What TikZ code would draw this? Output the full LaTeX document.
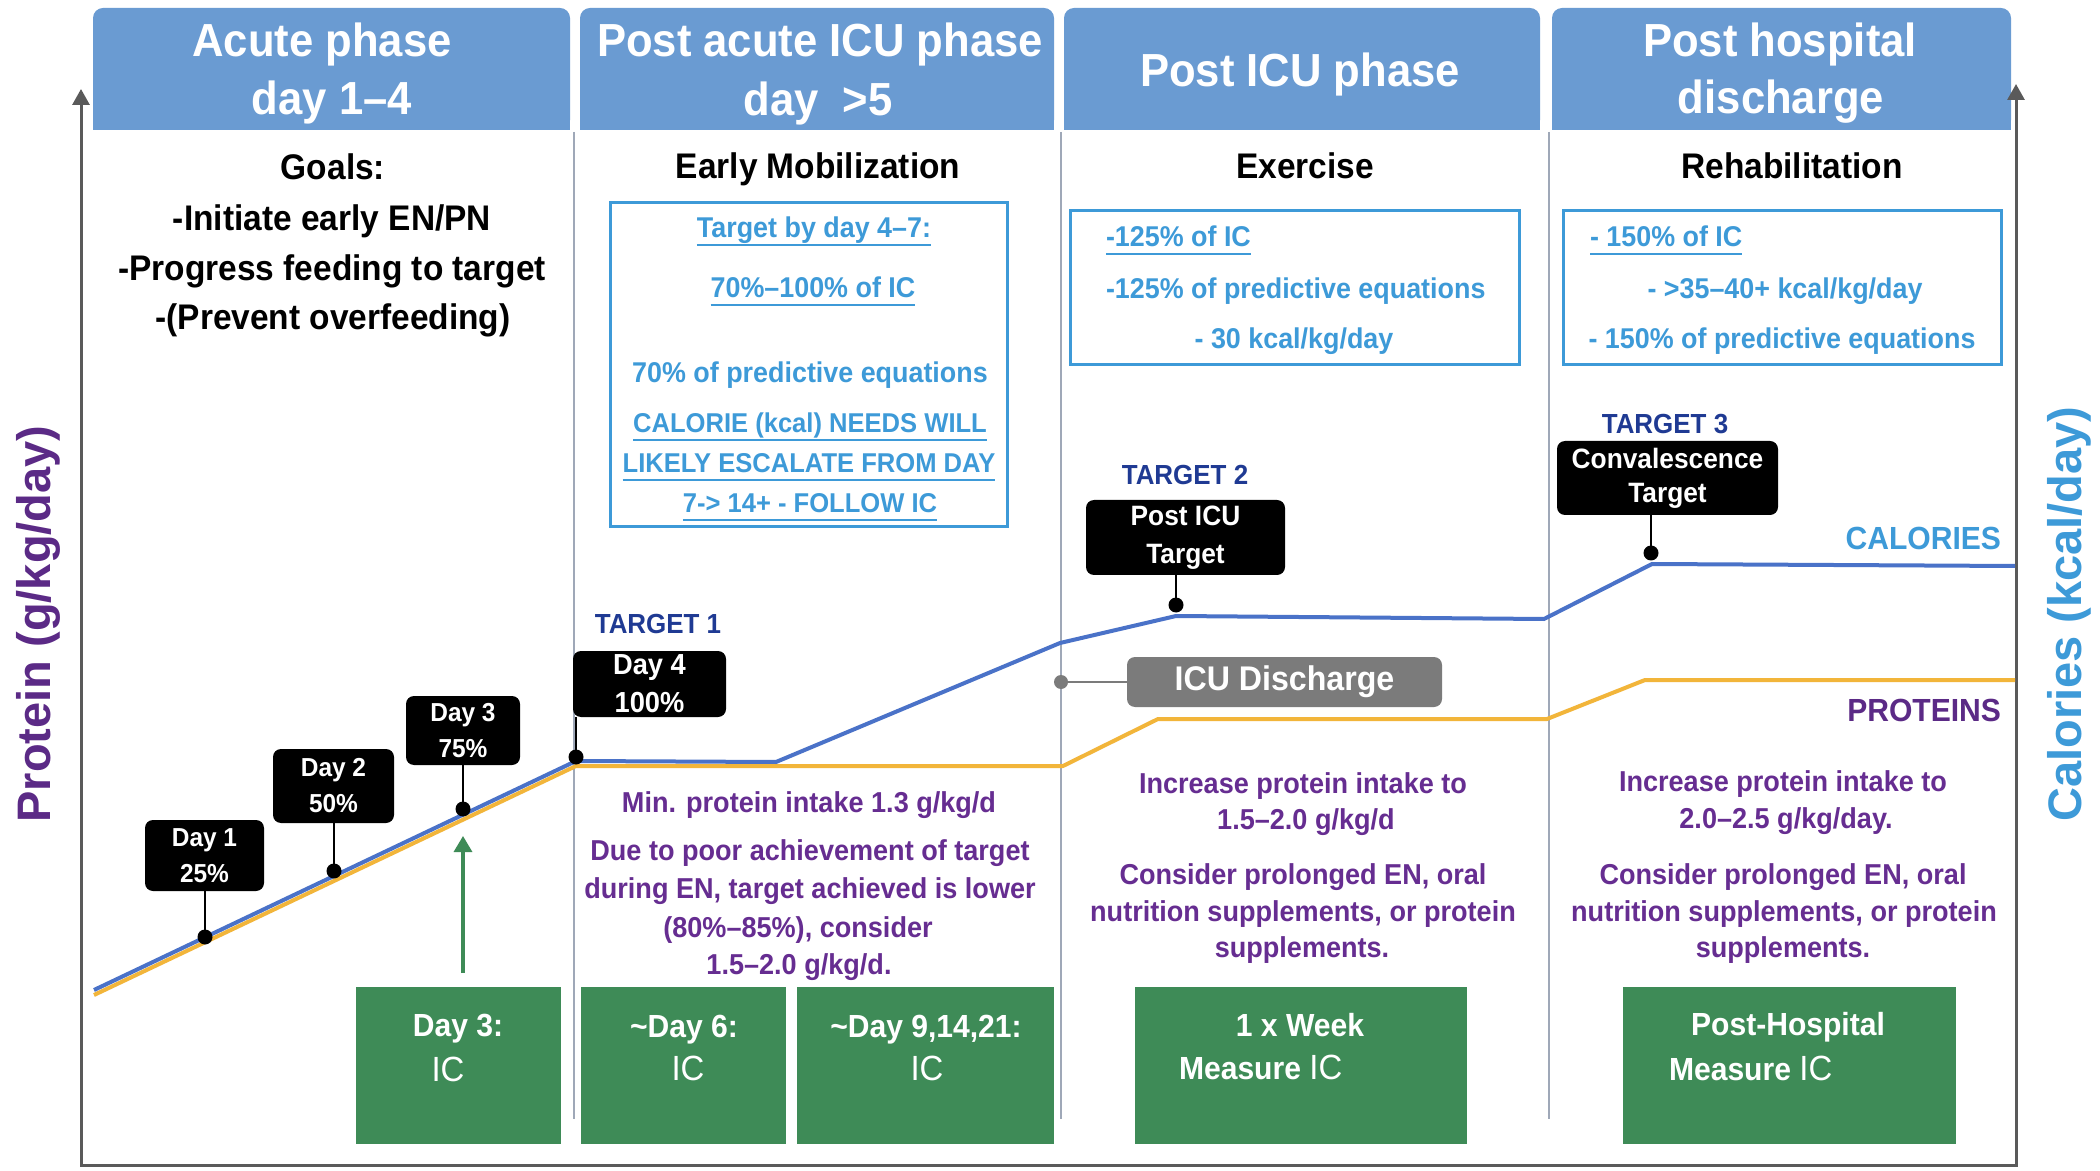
\documentclass[tikz,border=0pt]{standalone}
\usepackage{fontspec}
\setmainfont{Liberation Sans}[FakeStretch=0.94]
\newfontfamily\axisfont{Liberation Sans}
\usetikzlibrary{arrows.meta,calc}
\definecolor{hdr}{HTML}{6A9BD2}
\definecolor{sepc}{HTML}{9FA8B8}
\definecolor{axisc}{HTML}{5A5A5A}
\definecolor{bluet}{HTML}{3D9AD8}
\definecolor{purp}{HTML}{662D91}
\definecolor{purpdark}{HTML}{5B2A86}
\definecolor{tgblue}{HTML}{1F3A93}
\definecolor{calline}{HTML}{4A72C8}
\definecolor{proline}{HTML}{F2B53A}
\definecolor{grn}{HTML}{3E8B57}
\definecolor{icugray}{HTML}{7B7B7B}
\newcommand\myfs[2]{\fontsize{#1}{#2}\selectfont}
\begin{document}
\begin{tikzpicture}[x=0.5pt,y=-0.5pt,
  every node/.style={inner sep=0pt,outer sep=0pt},
  hdrtext/.style={text=white,font=\bfseries\myfs{23.2}{29},anchor=base},
  titletext/.style={text=black,font=\bfseries\myfs{17.8}{22},anchor=base},
  bluetext/.style={text=bluet,font=\bfseries\myfs{14.3}{18},anchor=base},
  bluecaps/.style={text=bluet,font=\bfseries\myfs{13.6}{18},anchor=base},
  bluebox/.style={draw=bluet,line width=1.5pt},
  uline/.style={draw=bluet,line width=0.8pt},
  purptext/.style={text=purp,font=\bfseries\myfs{14.4}{18},anchor=base},
  tgtext/.style={text=tgblue,font=\bfseries\myfs{13.8}{17},anchor=base},
  blackbox/.style={fill=black,rounded corners=4pt,text=white,align=center,font=\bfseries\myfs{13}{18}},
  stemline/.style={draw=black,line width=1pt},
  dotnode/.style={circle,fill=black,minimum size=7.5pt},
  greenbox/.style={fill=grn,minimum height=78.5pt},
  greentext/.style={text=white,font=\bfseries\myfs{16}{20},anchor=base},
  ictext/.style={text=white,font=\mdseries\myfs{17.5}{20},anchor=base},
  sepline/.style={draw=sepc,line width=1.25pt},
  axisline/.style={draw=axisc,line width=1.5pt,line join=miter},
  calstyle/.style={draw=calline,line width=2pt,line join=round},
  prostyle/.style={draw=proline,line width=2pt,line join=round},
  garrow/.style={draw=grn,line width=1.6pt,-{Triangle[width=9pt,length=8pt]}},
  icubox/.style={fill=icugray,rounded corners=4pt,text=white,font=\bfseries\myfs{17.1}{20},minimum width=157.5pt,minimum height=25pt},
  icudot/.style={circle,fill=icugray,minimum size=7pt},
  axislabel/.style={font=\axisfont\bfseries\myfs{23.5}{26},rotate=90,anchor=base}
]
\useasboundingbox (0,0) rectangle (2100,1171);
\fill[white] (0,0) rectangle (2100,1171);

% header bars
\foreach \a/\b in {93/570,580/1054,1064/1540,1552/2011}{
  \fill[hdr,rounded corners=5pt] (\a,8) rectangle (\b,130);
  \fill[hdr] (\a,60) rectangle (\b,130);
}
\node[hdrtext] (h1a) at (322,57) {Acute phase};
\node[hdrtext] (h1b) at (332,115) {day 1–4};
\node[hdrtext] (h2a) at (820,57) {Post acute ICU phase};
\node[hdrtext] (h2b) at (818,116) {day\ \ >5};
\node[hdrtext] (h3) at (1300,87) {Post ICU phase};
\node[hdrtext] (h4a) at (1780,57) {Post hospital};
\node[hdrtext] (h4b) at (1781,114) {discharge};

% separators
\foreach \x in {574,1061,1549}{\draw[sepline] (\x,132) -- (\x,1119);}

% axes
\draw[axisline,{Triangle[width=8.5pt,length=8pt]}-{Triangle[width=8.5pt,length=8pt]}]
  (81,89) -- (81,1165) -- (2016,1165) -- (2016,84);

% titles
\node[titletext] (g0) at (333,180) {Goals:};
\node[titletext] (g1) at (332,231) {-Initiate early EN/PN};
\node[titletext] (g2) at (332,281) {-Progress feeding to target};
\node[titletext] (g3) at (333,330) {-(Prevent overfeeding)};
\node[titletext] (t2) at (818,179) {Early Mobilization};
\node[titletext] (t3) at (1305,179) {Exercise};
\node[titletext] (t4) at (1792,179) {Rehabilitation};

% blue box A
\node[bluebox,minimum width=198.5pt,minimum height=162pt] (boxa) at (808.5,365) {};
\node[bluetext] (a1) at (814,238) {Target by day 4–7:};
\node[bluetext] (a2) at (813,298) {70\%–100\% of IC};
\node[bluetext] (a3) at (810,383) {70\% of predictive equations};
\node[bluecaps] (a4) at (810,433) {CALORIE (kcal) NEEDS WILL};
\node[bluecaps] (a5) at (809,473) {LIKELY ESCALATE FROM DAY};
\node[bluecaps] (a6) at (810,513) {7-> 14+ - FOLLOW IC};
\foreach \n in {a1,a2,a4,a5,a6}{
  \draw[uline] ([yshift=-3.5pt]\n.base west) -- ([yshift=-3.5pt]\n.base east);}

% blue box B
\node[bluebox,minimum width=224.5pt,minimum height=77pt] (boxb) at (1294.5,288) {};
\node[bluetext,anchor=base west] (b1) at (1106,247) {-125\% of IC};
\node[bluetext,anchor=base west] (b2) at (1106,299) {-125\% of predictive equations};
\node[bluetext] (b3) at (1294,349) {- 30 kcal/kg/day};
\draw[uline] ([yshift=-3.5pt]b1.base west) -- ([yshift=-3.5pt]b1.base east);

% blue box C
\node[bluebox,minimum width=219pt,minimum height=77pt] (boxc) at (1782,288) {};
\node[bluetext,anchor=base west] (c1) at (1590,247) {- 150\% of IC};
\node[bluetext] (c2) at (1785,299) {- >35–40+ kcal/kg/day};
\node[bluetext] (c3) at (1782,349) {- 150\% of predictive equations};
\draw[uline] ([yshift=-3.5pt]c1.base west) -- ([yshift=-3.5pt]c1.base east);

% green boxes
\node[greenbox,minimum width=102.5pt] (gb1) at (458.5,1065.5) {};
\node[greenbox,minimum width=102.5pt] (gb2) at (683.5,1065.5) {};
\node[greenbox,minimum width=128.5pt] (gb3) at (925.5,1065.5) {};
\node[greenbox,minimum width=166pt] (gb4) at (1301,1065.5) {};
\node[greenbox,minimum width=166.5pt] (gb5) at (1789.5,1065.5) {};
\node[greentext] (gt1a) at (458,1036) {Day 3:};
\node[ictext] (gt1b) at (448,1081) {IC};
\node[greentext] (gt2a) at (684,1037) {\textasciitilde Day 6:};
\node[ictext] (gt2b) at (688,1080) {IC};
\node[greentext] (gt3a) at (926,1037) {\textasciitilde Day 9,14,21:};
\node[ictext] (gt3b) at (927,1080) {IC};
\node[greentext] (gt4a) at (1300,1036) {1 x Week};
\node[greentext,anchor=base west] (gt4b) at (1179,1079) {Measure {\mdseries\myfs{17.5}{20}IC}};
\node[greentext] (gt5a) at (1788,1035) {Post-Hospital};
\node[greentext,anchor=base west] (gt5b) at (1669,1080) {Measure {\mdseries\myfs{17.5}{20}IC}};

% curves
\draw[prostyle] (94,995) -- (576,766) -- (1063,766) -- (1158,719) -- (1547,719) -- (1645,680) -- (2015,680);
\draw[calstyle] (94,990) -- (576,761) -- (776,762) -- (1060,643) -- (1176,616) -- (1544,619) -- (1652,564) -- (2015,566);

% ICU discharge
\node[icudot] (icud) at (1061,682) {};
\node[icubox] (icu) at (1284.5,682) {ICU Discharge};
\draw[draw=icugray,line width=1.2pt] (icud) -- (icu.west);

% black label boxes
\node[blackbox,minimum width=59.5pt,minimum height=35.5pt] (bd1) at (204.5,855.5) {Day 1\\25\%};
\node[blackbox,minimum width=60.5pt,minimum height=37pt] (bd2) at (333.5,786) {Day 2\\50\%};
\node[blackbox,minimum width=57pt,minimum height=34.5pt] (bd3) at (463,730.5) {Day 3\\75\%};
\node[blackbox,minimum width=76.5pt,minimum height=33pt,font=\bfseries\myfs{14.5}{19}] (bd4) at (649.5,684) {Day 4\\100\%};
\node[blackbox,minimum width=99.5pt,minimum height=37.5pt,font=\bfseries\myfs{14}{19}] (bt2) at (1185.5,537.5) {Post ICU\\Target};
\node[blackbox,minimum width=110.5pt,minimum height=37pt,font=\bfseries\myfs{14}{17}] (bt3) at (1667.5,478) {Convalescence\\Target};

% dots
\coordinate (d1) at (205,937);
\coordinate (d2) at (334,871);
\coordinate (d3) at (463,809);
\coordinate (d4) at (576,757);
\coordinate (d5) at (1176,605);
\coordinate (d6) at (1651,553);
\draw[stemline] (d1) -- (d1 |- bd1.south);
\draw[stemline] (d2) -- (d2 |- bd2.south);
\draw[stemline] (d3) -- (d3 |- bd3.south);
\draw[stemline] (d4) -- (d4 |- bd4.south);
\draw[stemline] (d5) -- (d5 |- bt2.south);
\draw[stemline] (d6) -- (d6 |- bt3.south);
\foreach \d in {d1,d2,d3,d4,d5,d6}{\node[dotnode] (\d dot) at (\d) {};}

% green arrow
\draw[garrow] ($(gb1.north -| d3)+(0,-14)$) -- ($(d3)+(0,27)$);

% targets
\node[tgtext] (tg1) at (658,633) {TARGET 1};
\node[tgtext] (tg2) at (1185,485) {TARGET 2};
\node[tgtext] (tg3) at (1665,434) {TARGET 3};

% legend
\node[text=bluet,font=\bfseries\myfs{16}{20},anchor=base east] (callab) at (2001,550) {CALORIES};
\node[text=purpdark,font=\bfseries\myfs{16}{20},anchor=base east] (prolab) at (2001,721) {PROTEINS};

% purple texts
\node[purptext] (p21) at (809,812) {Min. protein intake 1.3 g/kg/d};
\node[purptext] (p22) at (810,860) {Due to poor achievement of target};
\node[purptext] (p23) at (810,898) {during EN, target achieved is lower};
\node[purptext] (p24) at (798,937) {(80\%–85\%), consider};
\node[purptext] (p25) at (799,974) {1.5–2.0 g/kg/d.};
\node[purptext] (p31) at (1303,793) {Increase protein intake to};
\node[purptext] (p32) at (1306,829) {1.5–2.0 g/kg/d};
\node[purptext] (p33) at (1303,884) {Consider prolonged EN, oral};
\node[purptext] (p34) at (1303,921) {nutrition supplements, or protein};
\node[purptext] (p35) at (1302,957) {supplements.};
\node[purptext] (p41) at (1783,791) {Increase protein intake to};
\node[purptext] (p42) at (1786,828) {2.0–2.5 g/kg/day.};
\node[purptext] (p43) at (1783,884) {Consider prolonged EN, oral};
\node[purptext] (p44) at (1784,921) {nutrition supplements, or protein};
\node[purptext] (p45) at (1783,957) {supplements.};

% axis labels
\node[axislabel,text=purpdark] (ylab) at (50,624) {Protein (g/kg/day)};
\node[axislabel,text=bluet] (y2lab) at (2081,614) {Calories (kcal/day)};
\end{tikzpicture}
\end{document}
